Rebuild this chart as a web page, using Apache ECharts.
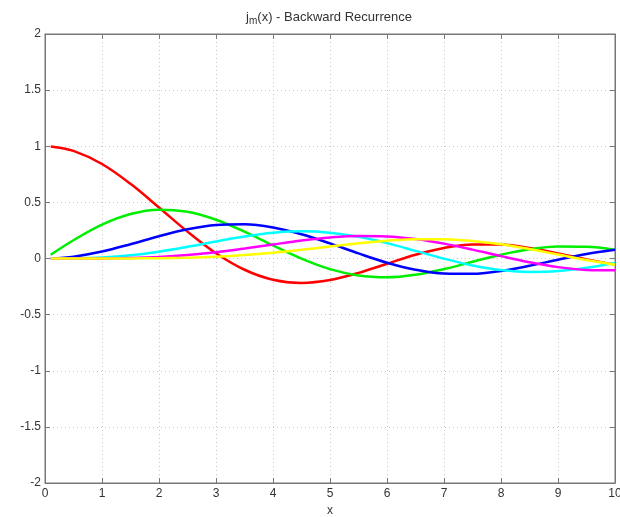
<!DOCTYPE html>
<html>
<head>
<meta charset="utf-8">
<script src="https://cdn.jsdelivr.net/npm/echarts@6/dist/echarts.min.js"></script>
<style>html,body{margin:0;padding:0;background:#fff;overflow:hidden;}#c{width:620px;height:517px;}</style>
</head>
<body>
<div id="c"></div>
<script>
var xs = [0.1,0.5,1,1.5,2,2.5,3,3.5,4,4.5,5,5.5,6,6.5,7,7.5,8,8.5,9,9.5,10];
var j0 = [0.9983,0.9589,0.8415,0.6650,0.4546,0.2394,0.0470,-0.1002,-0.1892,-0.2172,-0.1918,-0.1283,-0.0466,0.0331,0.0939,0.1251,0.1237,0.0939,0.0458,-0.0079,-0.0544];
var j1 = [0.0333,0.1625,0.3012,0.3961,0.4354,0.4162,0.3457,0.2389,0.1161,-0.0014,-0.0951,-0.1522,-0.1678,-0.1452,-0.0943,-0.0295,0.0337,0.0819,0.1063,0.1041,0.0785];
var j2 = [0.0007,0.0164,0.0620,0.1272,0.1985,0.2601,0.2986,0.3050,0.2763,0.2163,0.1347,0.0453,-0.0373,-0.1001,-0.1343,-0.1369,-0.1111,-0.0651,-0.0104,0.0408,0.0779];
var j3 = [0.0000,0.0012,0.0090,0.0283,0.0607,0.1039,0.1521,0.1968,0.2292,0.2417,0.2298,0.1933,0.1367,0.0682,-0.0016,-0.0617,-0.1031,-0.1201,-0.1120,-0.0827,-0.0395];
var j4 = [0.0000,0.0001,0.0010,0.0048,0.0141,0.0309,0.0562,0.0886,0.1249,0.1598,0.1870,0.2008,0.1968,0.1735,0.1327,0.0793,0.0209,-0.0339,-0.0768,-0.1017,-0.1056];
var j5 = [0.0000,0.0000,0.0001,0.0007,0.0026,0.0074,0.0164,0.0310,0.0518,0.0778,0.1068,0.1352,0.1585,0.1721,0.1722,0.1568,0.1265,0.0843,0.0353,-0.0137,-0.0555];
var seriesData = [j0,j1,j2,j3,j4,j5];
var colors = ['#ff0000','#00ee00','#0000ff','#00ffff','#ff00ff','#ffff00'];
var xTicks = [0,1,2,3,4,5,6,7,8,9,10];
var yTicks = [-2,-1.5,-1,-0.5,0,0.5,1,1.5,2];

var chart = echarts.init(document.getElementById('c'), null, {renderer:'canvas', width:620, height:517});
var font = 'Liberation Sans, Arial, sans-serif';
var gridLine = {show:true, lineStyle:{color:'#c8c8c8', type:[1,3], width:1}};
var series = seriesData.map(function(arr, i){
  return {
    type:'line', xAxisIndex:0, yAxisIndex:0,
    data: xs.map(function(x, k){ return [x, arr[k]]; }),
    smooth: 0.35, showSymbol:false, symbol:'none',
    lineStyle:{color:colors[i], width:2.5},
    itemStyle:{color:colors[i]},
    z: 2 + i
  };
});
chart.setOption({
  animation:false,
  backgroundColor:'#fff',
  title:{
    text:'{j|j}{sub|m}{t|(x) - Backward Recurrence}',
    left:324, top:3, textAlign:'center',
    textStyle:{
      fontWeight:'normal',
      rich:{
        j:{fontFamily:font, fontSize:13, fontWeight:'normal', color:'#333'},
        sub:{fontFamily:font, fontSize:10, fontWeight:'normal', color:'#333', padding:[8,0,0,0]},
        t:{fontFamily:font, fontSize:13, fontWeight:'normal', color:'#333'}
      }
    }
  },
  grid:{left:45, right:5, top:34, bottom:34, outerBoundsMode:'none', containLabel:false,
        show:true, borderColor:'#777', borderWidth:1, backgroundColor:'#fff'},
  xAxis:[{
    type:'value', min:0, max:10, interval:1,
    name:'x', nameLocation:'middle', nameGap:21,
    nameTextStyle:{fontFamily:font, fontSize:12, color:'#333'},
    axisLine:{show:true, onZero:false, lineStyle:{color:'#777'}},
    axisTick:{show:true, inside:true, length:5, lineStyle:{color:'#777'}},
    axisLabel:{fontFamily:font, fontSize:12, color:'#333', margin:5, showMaxLabel:true, hideOverlap:false,
      formatter:function(v){ return xTicks.indexOf(v) >= 0 ? String(v) : ''; }},
    splitLine:gridLine
  },{
    type:'value', min:0, max:10, interval:1, position:'top',
    axisLine:{show:true, onZero:false, lineStyle:{color:'#777'}},
    axisTick:{show:true, inside:true, length:5, lineStyle:{color:'#777'}},
    axisLabel:{show:false}, splitLine:{show:false}
  }],
  yAxis:[{
    type:'value', min:-2, max:2, interval:0.5,
    axisLine:{show:true, onZero:false, lineStyle:{color:'#777'}},
    axisTick:{show:true, inside:true, length:5, lineStyle:{color:'#777'}},
    axisLabel:{fontFamily:font, fontSize:12, color:'#333', margin:4,
      formatter:function(v){ return yTicks.indexOf(v) >= 0 ? String(v) : ''; }},
    splitLine:gridLine
  },{
    type:'value', min:-2, max:2, interval:0.5, position:'right',
    axisLine:{show:true, onZero:false, lineStyle:{color:'#777'}},
    axisTick:{show:true, inside:true, length:5, lineStyle:{color:'#777'}},
    axisLabel:{show:false}, splitLine:{show:false}
  }],
  series: series
});
</script>
</body>
</html>
